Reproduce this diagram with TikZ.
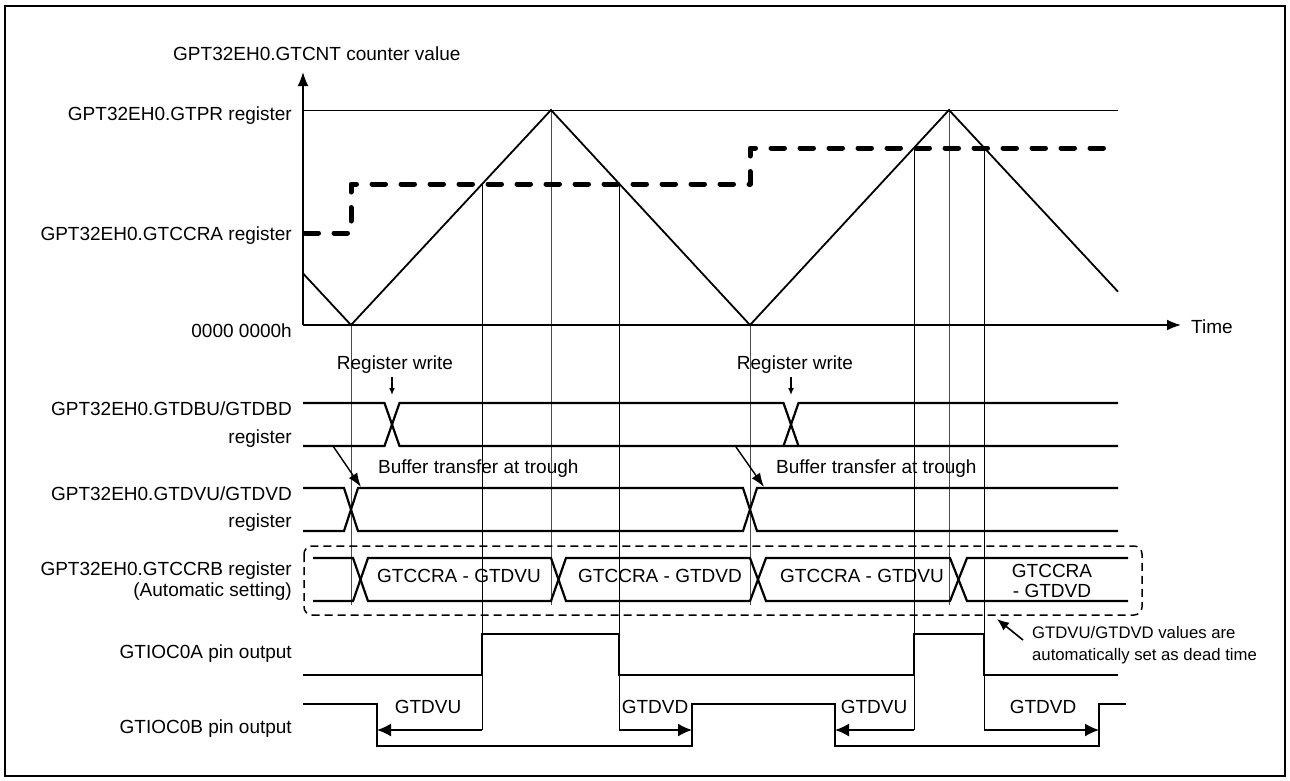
\documentclass[tikz,border=0pt]{standalone}
\usepackage{fontspec}
\setmainfont{Liberation Sans}
\usetikzlibrary{arrows.meta}
\begin{document}
\begin{tikzpicture}[x=1pt,y=-1pt,
  lbl/.style={font=\fontsize{19}{22}\selectfont, inner sep=0pt},
  sml/.style={font=\fontsize{16.7}{22}\selectfont, inner sep=0pt},
  bus/.style={line width=2.2pt, line join=miter},
  sig/.style={line width=2.2pt},
  guide/.style={line width=1pt, black!70},
  cguide/.style={line width=0.9pt, black},
  wave/.style={line width=1.8pt},
  axis/.style={line width=1.8pt, -{Latex[length=14pt,width=11pt]}},
  dtarrow/.style={line width=1.6pt, -{Latex[length=14pt,width=13pt]}},
  wrarrow/.style={line width=1.6pt, -{Latex[length=7pt,width=6pt]}},
  bfarrow/.style={line width=1.4pt, -{Latex[length=14pt,width=10pt]}},
  thickdash/.style={line width=5pt, line cap=round, line join=round, dash pattern=on 13.5pt off 15.5pt},
  boxdash/.style={line width=1.5pt, dash pattern=on 8pt off 5pt, rounded corners=8pt}
]
\useasboundingbox (0,0) rectangle (1290,780);
\draw[line width=2.5pt] (5,6) rectangle (1285,776);

% ---- key coordinates ----
\coordinate (O) at (303,325);
\coordinate (Ytip) at (303,72);
\coordinate (Xtip) at (1181,325);
\coordinate (PRend) at (1118,110);
\coordinate (PRstart) at (303,110);
\coordinate (T1) at (351,325);
\coordinate (P1) at (551,110);
\coordinate (T2) at (750,325);
\coordinate (P2) at (949,110);
\coordinate (C1) at (482,184);
\coordinate (C2) at (619,184);
\coordinate (C3) at (914,148);
\coordinate (C4) at (984,148);

% ---- guide lines ----
\draw[guide] (T1) -- (351,605);
\draw[guide] (P1) -- (551,605);
\draw[guide] (T2) -- (750,605);
\draw[guide] (P2) -- (949,605);
\draw[cguide] (C1) -- (482,730);
\draw[cguide] (C2) -- (619,730);
\draw[cguide] (C3) -- (914,730);
\draw[cguide] (C4) -- (984,730);

% ---- counter graph ----
\draw[line width=1pt] (PRstart) -- (PRend);
\draw[axis] (O) -- (Ytip);
\draw[axis] (O) -- (Xtip);
\draw[wave] (303,273.4) -- (T1) -- (P1) -- (T2) -- (P2) -- (1118,291.7);
\draw[thickdash] (305,233) -- (351,233) -- (351,184) -- (750,184) -- (750,148) -- (1116,148);

\node[lbl, anchor=base west] (title) at (173,60) {GPT32EH0.GTCNT counter value};
\node[lbl, anchor=base east] (lpr) at (292,120) {GPT32EH0.GTPR register};
\node[lbl, anchor=base east] (lcra) at (292,240) {GPT32EH0.GTCCRA register};
\node[lbl, anchor=base east] (lzero) at (292,337) {0000 0000h};
\node[lbl, anchor=base west] (ltime) at (1191,333) {Time};

% ---- GTDBU/GTDBD bus ----
\draw[bus] (303,403) -- (384.5,403) -- (399.5,446) -- (1118,446);
\draw[bus] (303,446) -- (384.5,446) -- (399.5,403) -- (783.5,403) -- (798.5,446);
\draw[bus] (303,403) (783.5,446) -- (798.5,403) -- (1118,403);
\draw[bus] (399.5,446) -- (783.5,446);
\node[lbl, anchor=base east] (ldbu1) at (292,415) {GPT32EH0.GTDBU/GTDBD};
\node[lbl, anchor=base east] (ldbu2) at (292,443) {register};

\node[lbl, anchor=base] (rw1) at (395,369) {Register write};
\node[lbl, anchor=base] (rw2) at (795,369) {Register write};
\coordinate (rw1a) at (392,377); \coordinate (rw1b) at (392,395);
\coordinate (rw2a) at (791,377); \coordinate (rw2b) at (791,395);
\draw[wrarrow] (rw1a) -- (rw1b);
\draw[wrarrow] (rw2a) -- (rw2b);

% ---- GTDVU/GTDVD bus ----
\draw[bus] (303,488) -- (344,488) -- (358,531) -- (743,531) -- (757,488) -- (1118,488);
\draw[bus] (303,531) -- (344,531) -- (358,488) -- (743,488) -- (757,531) -- (1118,531);
\node[lbl, anchor=base east] (ldvu1) at (292,500) {GPT32EH0.GTDVU/GTDVD};
\node[lbl, anchor=base east] (ldvu2) at (292,527) {register};

\coordinate (bf1a) at (333,446); \coordinate (bf1b) at (361,487);
\coordinate (bf2a) at (736,447); \coordinate (bf2b) at (764,487);
\draw[bfarrow] (bf1a) -- (bf1b);
\draw[bfarrow] (bf2a) -- (bf2b);
\node[lbl, anchor=base west] (bt1) at (378,473) {Buffer transfer at trough};
\node[lbl, anchor=base west] (bt2) at (776,473) {Buffer transfer at trough};

% ---- GTCCRB bus ----
\draw[boxdash] (304,546) rectangle (1142,615);
\draw[bus] (313,558) -- (353,558) -- (368,601) -- (551,601) -- (566,558) -- (750,558) -- (766,601) -- (950,601) -- (967,558) -- (1128,558);
\draw[bus] (313,601) -- (353,601) -- (368,558) -- (551,558) -- (566,601) -- (750,601) -- (766,558) -- (950,558) -- (967,601) -- (1128,601);
\node[lbl, anchor=base east] (lccrb1) at (292,575) {GPT32EH0.GTCCRB register};
\node[lbl, anchor=base east] (lccrb2) at (292,596) {(Automatic setting)};
\node[lbl, anchor=base] (v1) at (459,582) {GTCCRA - GTDVU};
\node[lbl, anchor=base] (v2) at (660,582) {GTCCRA - GTDVD};
\node[lbl, anchor=base] (v3) at (862,582) {GTCCRA - GTDVU};
\node[lbl, anchor=base] (v4a) at (1052,577) {GTCCRA};
\node[lbl, anchor=base] (v4b) at (1052,597) {- GTDVD};

% ---- annotation ----
\coordinate (anA) at (1023,640); \coordinate (anB) at (997,619);
\draw[line width=1.6pt, -{Latex[length=12pt,width=10pt]}] (anA) -- (anB);
\node[sml, anchor=base west] (an1) at (1032,638) {GTDVU/GTDVD values are};
\node[sml, anchor=base west] (an2) at (1032,660) {automatically set as dead time};

% ---- GTIOC0A ----
\draw[sig] (303,675) -- (482,675) -- (482,634) -- (619,634) -- (619,675) -- (914,675) -- (914,634) -- (984,634) -- (984,675) -- (1118,675);
\node[lbl, anchor=base east] (l0a) at (292,658) {GTIOC0A pin output};

% ---- GTIOC0B ----
\draw[sig] (303,704) -- (377,704) -- (377,746) -- (692,746) -- (692,704) -- (835,704) -- (835,746) -- (1099,746) -- (1099,704) -- (1126,704);
\node[lbl, anchor=base east] (l0b) at (292,733) {GTIOC0B pin output};

\coordinate (d1a) at (482,730); \coordinate (d1b) at (377,730);
\coordinate (d2a) at (619,730); \coordinate (d2b) at (692,730);
\coordinate (d3a) at (914,730); \coordinate (d3b) at (835,730);
\coordinate (d4a) at (984,730); \coordinate (d4b) at (1099,730);
\draw[dtarrow] (d1a) -- (d1b);
\draw[dtarrow] (d2a) -- (d2b);
\draw[dtarrow] (d3a) -- (d3b);
\draw[dtarrow] (d4a) -- (d4b);
\node[lbl, anchor=base] (g1) at (428,713) {GTDVU};
\node[lbl, anchor=base] (g2) at (655,713) {GTDVD};
\node[lbl, anchor=base] (g3) at (874,713) {GTDVU};
\node[lbl, anchor=base] (g4) at (1043,713) {GTDVD};
\end{tikzpicture}
\end{document}
